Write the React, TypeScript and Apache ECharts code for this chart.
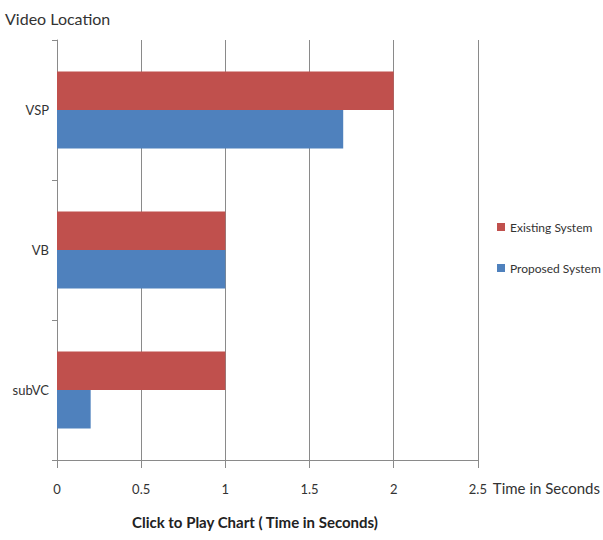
import React, { useEffect, useRef } from "react";
import * as echarts from "echarts";

const categories = ["VSP", "VB", "subVC"];
const existingSystem = [2, 1, 1];
const proposedSystem = [1.7, 1, 0.2];
const xTicks = { min: 0, max: 2.5, interval: 0.5 };

export default function App() {
  const ref = useRef<HTMLDivElement>(null);
  useEffect(() => {
    document.body.style.margin = "0";
    const chart = echarts.init(ref.current!, null, { renderer: "svg" });
    const font = "Lato, 'Open Sans', sans-serif";
    chart.setOption({
      animation: false,
      backgroundColor: "#ffffff",
      textStyle: { fontFamily: font },
      grid: { left: 57, right: 117, top: 40, bottom: 80, containLabel: false },
      legend: {
        orient: "vertical",
        left: 492,
        top: 216,
        itemWidth: 8,
        itemHeight: 8,
        itemGap: 29,
        icon: "rect",
        textStyle: { fontSize: 12, color: "#333", fontFamily: font },
        data: ["Existing System", "Proposed System"],
      },
      graphic: [
        {
          type: "text",
          left: 5,
          top: 10,
          style: { text: "Video Location", fontSize: 16, fill: "#333", fontFamily: font },
        },
        {
          type: "text",
          left: 132,
          top: 514,
          style: {
            text: "Click to Play Chart ( Time in Seconds)",
            fontSize: 15,
            fontWeight: "bold",
            fill: "#222",
            fontFamily: font,
          },
        },
      ],
      xAxis: {
        type: "value",
        min: xTicks.min,
        max: xTicks.max,
        interval: xTicks.interval,
        name: "Time in Seconds",
        nameLocation: "end",
        nameGap: 14,
        nameTextStyle: { fontSize: 15, color: "#333", verticalAlign: "top", padding: [20, 0, 0, 0] },
        axisLine: { show: true, lineStyle: { color: "#8a8a8a" } },
        axisTick: { show: true, length: 8, lineStyle: { color: "#8a8a8a" } },
        axisLabel: { fontSize: 13, color: "#333", margin: 22 },
        splitLine: { show: true, lineStyle: { color: "#8a8a8a" } },
      },
      yAxis: {
        type: "category",
        inverse: true,
        data: categories,
        axisLine: { show: true, lineStyle: { color: "#8a8a8a" } },
        axisTick: { show: true, length: 5, lineStyle: { color: "#8a8a8a" } },
        axisLabel: { fontSize: 13, color: "#333", margin: 8 },
        splitLine: { show: false },
      },
      series: [
        {
          name: "Existing System",
          type: "bar",
          data: existingSystem,
          itemStyle: { color: "#C0504D" },
          barGap: "0%",
          barCategoryGap: "45%",
        },
        {
          name: "Proposed System",
          type: "bar",
          data: proposedSystem,
          itemStyle: { color: "#4F81BD" },
          barGap: "0%",
          barCategoryGap: "45%",
        },
      ],
    });
    return () => chart.dispose();
  }, []);
  return <div ref={ref} style={{ width: 603, height: 540, position: "absolute", left: 0, top: 0 }} />;
}
